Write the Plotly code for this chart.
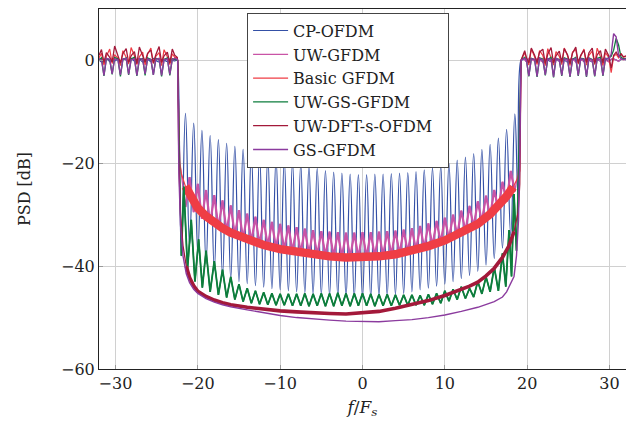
import plotly.graph_objects as go

# ---------------- data ----------------
# shared frequency grids of the out-of-band flanks (f/Fs)
side_left_f = [-32.0, -31.7, -31.4, -31.1, -30.7, -30.4, -30.1, -29.7, -29.4, -29.1,
               -28.7, -28.4, -28.1, -27.7, -27.4, -27.1, -26.7, -26.4, -26.1, -25.7,
               -25.4, -25.1, -24.7, -24.4, -24.1, -23.7, -23.4, -23.1, -22.8, -22.5]
side_right_f = [19.4, 19.7, 19.9, 20.2, 20.5, 20.9, 21.2, 21.5, 21.9, 22.2,
                22.5, 22.9, 23.2, 23.5, 23.9, 24.2, 24.5, 24.9, 25.2, 25.5,
                25.9, 26.2, 26.5, 26.9, 27.2, 27.5, 27.9, 28.2, 28.5, 28.9,
                29.2, 29.5, 29.9, 30.2, 30.5, 30.8, 31.1, 31.4, 31.7, 32.0]
band_edge_f = [-22.45, 19.25]

# ---- CP-OFDM ----
cp_left = [0.2, -0.3, 0.1, 0.4, -0.2, 0.3, -0.1, 0.2, -0.4, 0.3, 0.1, -0.2, 0.4, -0.1, 0.2,
           0.3, -0.3, 0.1, 0.2, -0.2, 0.4, 0.0, -0.3, 0.2, 0.1, -0.2, 0.3, 0.1, -0.1, 0.2]
cp_right = [0.1, 0.3, -0.2, 0.2, 0.4, -0.1, 0.1, 0.3, -0.3, 0.2, 0.1, -0.2, 0.3, 0.2, -0.1,
            0.4, 0.1, -0.3, 0.2, 0.3, -0.1, 0.1, 0.4, -0.2, 0.2, 0.1, -0.3, 0.3, 0.2, -0.1,
            0.1, 0.4, -0.2, 0.2, 0.3, 0.1, -0.1, 0.2, 0.3, 0.1]
cp_peak_f = [-21.5, -20.5, -19.5, -18.5, -17.5, -16.5, -15.5, -14.5, -13.5, -12.5, -11.5,
             -10.5, -9.5, -8.5, -7.5, -6.5, -5.5, -4.5, -3.5, -2.5, -1.5, -0.5, 0.5, 1.5,
             2.5, 3.5, 4.5, 5.5, 6.5, 7.5, 8.5, 9.5, 10.5, 11.5, 12.5, 13.5, 14.5, 15.5,
             16.5, 17.5, 18.5]
cp_peak_db = [-10.3, -12.2, -13.6, -14.6, -15.4, -16.1, -16.7, -17.3, -17.8, -18.2, -18.7,
              -19.1, -19.4, -19.8, -20.2, -20.6, -21.0, -21.4, -21.7, -21.9, -22.1, -22.2,
              -22.2, -22.1, -22.1, -22.0, -21.9, -21.8, -21.6, -21.3, -20.9, -20.5, -20.0,
              -19.4, -18.8, -18.1, -17.3, -16.3, -15.1, -13.4, -10.4]
cp_null_f = [-22.0, -21.0, -20.0, -19.0, -18.0, -17.0, -16.0, -15.0, -14.0, -13.0, -12.0,
             -11.0, -10.0, -9.0, -8.0, -7.0, -6.0, -5.0, -4.0, -3.0, -2.0, -1.0, 0.0, 1.0,
             2.0, 3.0, 4.0, 5.0, 6.0, 7.0, 8.0, 9.0, 10.0, 11.0, 12.0, 13.0, 14.0, 15.0,
             16.0, 17.0, 18.0, 18.9]
cp_null_db = [-38.0, -36.0, -37.5, -39.5, -40.8, -41.8, -42.4, -43.0, -43.4, -43.8, -44.1,
              -44.4, -44.6, -44.8, -45.0, -45.2, -45.4, -45.5, -45.7, -45.8, -46.0, -46.0,
              -46.1, -46.0, -45.9, -45.7, -45.5, -45.3, -45.0, -44.6, -44.3, -43.9, -43.5,
              -43.0, -42.4, -41.8, -41.0, -39.8, -38.5, -36.5, -34.0, -27.0]

# ---- UW-GFDM ----
uw_left = [0.1, 0.4, -0.2, 0.3, 0.1, -0.3, 0.2, 0.4, -0.1, 0.2, 0.3, -0.2, 0.1, 0.4, -0.3,
           0.2, 0.1, -0.2, 0.3, 0.2, -0.1, 0.4, 0.1, -0.3, 0.2, 0.3, -0.2, 0.1, 0.2, 0.1]
uw_right = [0.3, 0.1, -0.2, 0.4, 0.2, -0.1, 0.3, 0.1, -0.3, 0.2, 0.4, -0.2, 0.1, 0.3, -0.1,
            0.2, 0.4, -0.2, 0.1, 0.3, -0.3, 0.2, 0.1, -0.1, 0.4, 0.2, -0.2, 0.1, 0.3, -0.1,
            0.2, 0.1, -0.3, 0.3, 0.2, 0.1, -0.2, 0.3, 0.1, 0.2]
uw_start = [-22.2, -19.5]
uw_end = [19.0, -20.5]
uw_peak_f = [-21.0, -20.0, -19.0, -18.0, -17.0, -16.0, -15.0, -14.0, -13.0, -12.0, -11.0,
             -10.0, -9.0, -8.0, -7.0, -6.0, -5.0, -4.0, -3.0, -2.0, -1.0, 0.0, 1.0, 2.0,
             3.0, 4.0, 5.0, 6.0, 7.0, 8.0, 9.0, 10.0, 11.0, 12.0, 13.0, 14.0, 15.0, 16.0,
             17.0, 18.0]
uw_peak_db = [-22.7, -24.0, -25.2, -26.2, -27.2, -28.2, -29.1, -29.8, -30.4, -31.0, -31.4,
              -31.8, -32.1, -32.4, -32.7, -33.0, -33.2, -33.3, -33.4, -33.5, -33.5, -33.4,
              -33.4, -33.3, -33.2, -33.1, -32.9, -32.6, -32.2, -31.7, -31.2, -30.6, -30.0,
              -29.2, -28.3, -27.4, -26.3, -25.2, -23.6, -21.5]
uw_trough_f = [-21.5, -20.5, -19.5, -18.5, -17.5, -16.5, -15.5, -14.5, -13.5, -12.5, -11.5,
               -10.5, -9.5, -8.5, -7.5, -6.5, -5.5, -4.5, -3.5, -2.5, -1.5, -0.5, 0.5, 1.5,
               2.5, 3.5, 4.5, 5.5, 6.5, 7.5, 8.5, 9.5, 10.5, 11.5, 12.5, 13.5, 14.5, 15.5,
               16.5, 17.5, 18.5]
uw_trough_db = [-28.5, -29.5, -30.8, -31.8, -32.6, -33.4, -34.1, -34.8, -35.3, -35.8, -36.2,
                -36.6, -36.9, -37.2, -37.5, -37.7, -37.9, -38.1, -38.2, -38.3, -38.4, -38.4,
                -38.3, -38.2, -38.1, -37.9, -37.7, -37.4, -37.0, -36.6, -36.1, -35.5, -34.8,
                -34.1, -33.3, -32.4, -31.4, -30.3, -29.0, -27.5, -25.5]

# ---- Basic GFDM ----
bg_left = [0.5, 1.4, -0.9, 0.8, 2.2, -0.6, 1.1, 0.4, -1.0, 1.9, 0.6, -0.7, 2.5, 0.9, -0.8,
           0.7, 1.6, -0.9, 1.2, 2.4, -0.6, 0.8, 1.5, -1.0, 2.1, 0.7, -0.8, 1.3, 0.6, 0.5]
bg_right = [0.6, 1.5, 0.4, -0.9, 2.2, 0.7, -0.8, 1.9, 1.0, -1.0, 2.3, 0.6, -0.9, 1.7, 0.8,
            -0.8, 2.4, 0.9, -1.0, 1.6, 2.1, -0.7, 0.8, 2.2, -0.9, 1.0, 1.8, -0.8, 2.4, 0.7,
            -1.0, 1.5, 0.6, -2.4, 0.8, 1.2, 0.5, 1.4, 0.6, 0.8]
bg_band_f = [-22.2, -22.0, -21.5, -21.0, -20.0, -19.0, -18.0, -17.0, -16.0, -14.0, -12.0,
             -10.0, -8.0, -6.0, -4.0, -2.0, 0.0, 2.0, 4.0, 6.0, 8.0, 10.0, 12.0, 14.0,
             15.5, 16.5, 17.5, 18.3, 18.8, 19.1]
bg_band_db = [-20.0, -22.0, -24.5, -26.0, -28.7, -30.3, -31.6, -32.6, -33.5, -34.9, -35.9,
              -36.7, -37.3, -37.8, -38.1, -38.3, -38.3, -38.1, -37.7, -37.0, -36.1, -35.0,
              -33.6, -31.8, -29.9, -28.3, -26.4, -24.6, -23.0, -21.5]

# ---- UW-GS-GFDM ----
ugs_left = [0.2, 0.5, -3.0, 0.4, 0.1, -2.7, 0.6, 0.3, -3.1, 0.2, 0.5, -2.8, 0.3, 0.6, -3.0,
            0.1, 0.4, -2.9, 0.5, 0.2, -2.8, 0.4, 0.3, -3.1, 0.2, 0.5, -2.9, 0.3, 0.2, 0.1]
ugs_right = [0.3, 0.6, 0.2, -3.1, 0.4, 0.2, -3.2, 0.5, 0.3, -2.9, 0.2, 0.6, -3.3, 0.4, 0.2,
             -3.0, 0.5, 0.3, -3.2, 0.2, 0.6, -3.0, 0.4, 0.3, -3.2, 0.5, 0.2, -3.1, 0.4, 0.6,
             -3.0, 0.3, 0.5, 0.8, 2.0, 4.3, 3.0, 0.6, 0.3, 0.4]
ugs_end = [18.95, -18.8]
ugs_peak_f = [-21.7, -20.8, -19.9, -19.0, -18.0, -17.0, -16.0, -15.0, -14.0, -13.0, -12.0,
              -11.0, -10.0, -9.0, -8.0, -7.0, -6.0, -5.0, -4.0, -3.0, -2.0, -1.0, 0.0, 1.0,
              2.0, 3.0, 4.0, 5.0, 6.0, 7.0, 8.0, 9.0, 10.0, 11.0, 12.0, 13.0, 14.0, 15.0,
              16.0, 17.0, 17.8, 18.4]
ugs_peak_db = [-24.5, -31.0, -34.8, -37.0, -39.0, -40.7, -42.1, -43.5, -44.3, -44.8, -45.1,
               -45.3, -45.4, -45.4, -45.4, -45.3, -45.4, -45.3, -45.3, -45.2, -45.3, -45.3,
               -45.3, -45.4, -45.5, -45.5, -45.6, -45.6, -45.6, -45.7, -45.5, -45.3, -44.8,
               -44.5, -44.0, -44.3, -43.0, -42.1, -40.2, -37.5, -33.0, -26.0]
ugs_trough_f = [-22.0, -21.25, -20.35, -19.45, -18.5, -17.5, -16.5, -15.5, -14.5, -13.5,
                -12.5, -11.5, -10.5, -9.5, -8.5, -7.5, -6.5, -5.5, -4.5, -3.5, -2.5, -1.5,
                -0.5, 0.5, 1.5, 2.5, 3.5, 4.5, 5.5, 6.5, 7.5, 8.5, 9.5, 10.5, 11.5, 12.5,
                13.5, 14.5, 15.5, 16.5, 17.4, 18.1, 18.7]
ugs_trough_db = [-38.0, -40.5, -43.0, -44.2, -45.0, -45.6, -46.1, -46.5, -46.9, -47.2, -47.4,
                 -47.5, -47.6, -47.6, -47.7, -47.7, -47.8, -47.7, -47.8, -47.8, -47.7, -47.8,
                 -47.7, -47.7, -47.8, -47.7, -47.7, -47.6, -47.6, -47.6, -47.6, -47.4, -47.2,
                 -46.8, -46.5, -46.3, -46.0, -45.4, -45.0, -44.8, -44.0, -42.0, -37.0]

# ---- UW-DFT-s-OFDM ----
dft_left = [1.0, 2.1, -0.4, 1.5, 0.6, -0.3, 2.8, 1.0, -0.5, 1.3, 2.3, -0.4, 0.9, 1.7, -0.6,
            2.6, 0.8, -0.3, 1.4, 2.0, -0.5, 1.1, 2.7, -0.4, 0.9, 1.6, -0.5, 2.2, 1.0, 0.6]
dft_right = [0.8, 1.9, 0.6, -0.5, 2.4, 1.0, -0.4, 1.6, 2.2, -0.6, 1.2, 2.5, -0.5, 0.9, 1.8,
             -0.4, 2.3, 1.1, -0.6, 1.4, 2.6, -0.5, 1.0, 2.0, -0.4, 1.5, 2.4, -0.6, 1.1, 1.9,
             -0.5, 2.2, 0.9, -1.5, 1.0, 1.6, 0.8, 1.2, 0.7, 0.9]
dft_band_f = [-22.3, -22.1, -21.8, -21.4, -21.0, -20.5, -20.0, -19.0, -18.0, -17.0, -16.0,
              -14.0, -12.0, -10.0, -8.0, -6.0, -4.0, -2.0, 0.0, 2.0, 4.0, 6.0, 8.0, 10.0,
              12.0, 13.0, 14.0, 15.0, 16.0, 17.0, 17.8, 18.4, 18.9, 19.1]
dft_band_db = [-20.0, -30.0, -36.0, -40.0, -42.2, -43.8, -44.9, -45.9, -46.6, -47.1, -47.5,
               -48.0, -48.4, -48.7, -48.9, -49.1, -49.2, -49.3, -49.1, -48.8, -48.2, -47.5,
               -46.7, -45.7, -44.6, -43.9, -43.1, -41.9, -40.4, -38.3, -36.0, -33.3, -29.5,
               -24.0]

# ---- GS-GFDM ----
gs_left = [0.3, 0.1, -2.9, 0.4, 0.2, -2.6, 0.3, 0.1, -2.8, 0.2, 0.4, -2.7, 0.1, 0.3, -2.9,
           0.4, 0.2, -2.6, 0.3, 0.1, -2.8, 0.2, 0.4, -2.9, 0.1, 0.3, -2.7, 0.2, 0.4, 0.2]
gs_right = [0.2, 0.4, 0.1, -3.0, 0.3, 0.2, -3.1, 0.4, 0.1, -2.8, 0.3, 0.2, -3.2, 0.4, 0.1,
            -2.9, 0.3, 0.2, -3.1, 0.1, 0.4, -2.9, 0.3, 0.2, -3.1, 0.4, 0.1, -3.0, 0.3, 0.2,
            -2.9, 0.4, 0.3, 1.2, 5.2, 4.6, 1.0, 0.3, 0.2, 0.3]
gs_band_f = [-22.3, -22.1, -21.8, -21.4, -21.0, -20.5, -20.0, -19.0, -18.0, -17.0, -16.0,
             -14.0, -12.0, -10.0, -8.0, -6.0, -4.0, -2.0, 0.0, 2.0, 4.0, 6.0, 8.0, 10.0,
             12.0, 14.0, 16.0, 17.0, 17.5, 18.0, 18.4, 18.7, 18.95, 19.1]
gs_band_db = [-22.0, -32.0, -38.0, -41.5, -43.2, -44.5, -45.3, -46.3, -47.0, -47.5, -47.9,
              -48.5, -49.1, -49.6, -50.0, -50.3, -50.5, -50.7, -50.8, -50.8, -50.6, -50.4,
              -50.0, -49.5, -48.8, -48.0, -46.9, -46.0, -45.0, -43.5, -42.0, -38.0, -31.0,
              -18.0]

x_ticks = [-30, -20, -10, 0, 10, 20, 30]
y_ticks = [-60, -40, -20, 0]

# ---------------- assembly ----------------
def alternate(a_f, a_v, b_f, b_v):
    """a, b, a, b, ... (a has one more element than b)"""
    xs, ys = [], []
    for i in range(len(b_f)):
        xs += [a_f[i], b_f[i]]
        ys += [a_v[i], b_v[i]]
    xs.append(a_f[-1])
    ys.append(a_v[-1])
    return xs, ys


def full(left, mid_x, mid_y, right):
    xs = list(side_left_f) + [band_edge_f[0]] + list(mid_x) + [band_edge_f[1]] + list(side_right_f)
    ys = list(left) + [0.0] + list(mid_y) + [0.0] + list(right)
    return xs, ys


cp_mx, cp_my = alternate(cp_null_f, cp_null_db, cp_peak_f, cp_peak_db)
cp_x, cp_y = full(cp_left, cp_mx, cp_my, cp_right)

uw_mx, uw_my = alternate(uw_trough_f, uw_trough_db, uw_peak_f, uw_peak_db)
uw_x, uw_y = full(uw_left, [uw_start[0]] + uw_mx + [uw_end[0]],
                  [uw_start[1]] + uw_my + [uw_end[1]], uw_right)

bg_x, bg_y = full(bg_left, bg_band_f, bg_band_db, bg_right)

ugs_mx, ugs_my = alternate(ugs_trough_f, ugs_trough_db, ugs_peak_f, ugs_peak_db)
ugs_x, ugs_y = full(ugs_left, ugs_mx + [ugs_end[0]], ugs_my + [ugs_end[1]], ugs_right)

dft_x, dft_y = full(dft_left, dft_band_f, dft_band_db, dft_right)
gs_x, gs_y = full(gs_left, gs_band_f, gs_band_db, gs_right)

C_CP = '#3450a6'
C_UW = '#c954a6'
C_BG = '#ef3d45'
C_UGS = '#0d7d3c'
C_DFT = '#a3193a'
C_GS = '#8b3b9e'

fig = go.Figure()
fig.add_trace(go.Scatter(x=cp_x, y=cp_y, mode='lines', name='CP-OFDM',
                         line=dict(color=C_CP, width=1.2, shape='spline', smoothing=1.3)))
fig.add_trace(go.Scatter(x=uw_x, y=uw_y, mode='lines', name='UW-GFDM',
                         line=dict(color=C_UW, width=1.3)))
fig.add_trace(go.Scatter(x=uw_mx, y=uw_my, mode='lines', showlegend=False,
                         hoverinfo='skip', line=dict(color=C_UW, width=2.2)))
fig.add_trace(go.Scatter(x=bg_x, y=bg_y, mode='lines', name='Basic GFDM',
                         line=dict(color=C_BG, width=1.2)))
fig.add_trace(go.Scatter(x=bg_band_f[2:-2], y=bg_band_db[2:-2], mode='lines', showlegend=False,
                         hoverinfo='skip', line=dict(color=C_BG, width=8.5)))
fig.add_trace(go.Scatter(x=ugs_x, y=ugs_y, mode='lines', name='UW-GS-GFDM',
                         line=dict(color=C_UGS, width=1.3)))
fig.add_trace(go.Scatter(x=ugs_mx, y=ugs_my, mode='lines', showlegend=False,
                         hoverinfo='skip', line=dict(color=C_UGS, width=1.8)))
fig.add_trace(go.Scatter(x=dft_x, y=dft_y, mode='lines', name='UW-DFT-s-OFDM\u00a0\u00a0',
                         line=dict(color=C_DFT, width=1.3)))
fig.add_trace(go.Scatter(x=dft_band_f[3:-2], y=dft_band_db[3:-2], mode='lines', showlegend=False,
                         hoverinfo='skip', line=dict(color=C_DFT, width=3.6)))
fig.add_trace(go.Scatter(x=gs_x, y=gs_y, mode='lines', name='GS-GFDM',
                         line=dict(color=C_GS, width=1.4)))

# The page places the figure 8 px from the window's top-left corner (default
# body margin), so the figure is sized/margined to land where the reference is.
FONT = 'DejaVu Serif'
fig.update_layout(
    width=626, height=422,
    margin=dict(l=91, r=8, t=1, b=61, autoexpand=False),
    plot_bgcolor='white', paper_bgcolor='white',
    font=dict(family=FONT, size=16, color='#222'),
    legend=dict(x=0.281, y=0.99, xanchor='left', yanchor='top',
                bgcolor='white', bordercolor='#444', borderwidth=1,
                font=dict(family=FONT, size=16, color='#222'),
                tracegroupgap=0, itemwidth=35),
)
fig.update_xaxes(range=[-32, 32], tickvals=x_ticks, showgrid=True, gridcolor='#d0d0d0',
                 gridwidth=1, zeroline=False, showline=True, linecolor='#222', linewidth=1,
                 mirror=True, ticks='inside', ticklen=4, tickcolor='#999', automargin=False,
                 title=dict(text='<i>f</i>/<i>F<sub>s</sub></i>', standoff=8,
                            font=dict(family=FONT, size=17)))
fig.update_yaxes(range=[-60, 10], tickvals=y_ticks, showgrid=True, gridcolor='#d0d0d0',
                 gridwidth=1, zeroline=False, showline=True, linecolor='#222', linewidth=1,
                 mirror=True, ticks='inside', ticklen=4, tickcolor='#999', automargin=False,
                 title=dict(text='PSD [dB]', standoff=26, font=dict(family=FONT, size=16)))

fig.write_html('out.html')
